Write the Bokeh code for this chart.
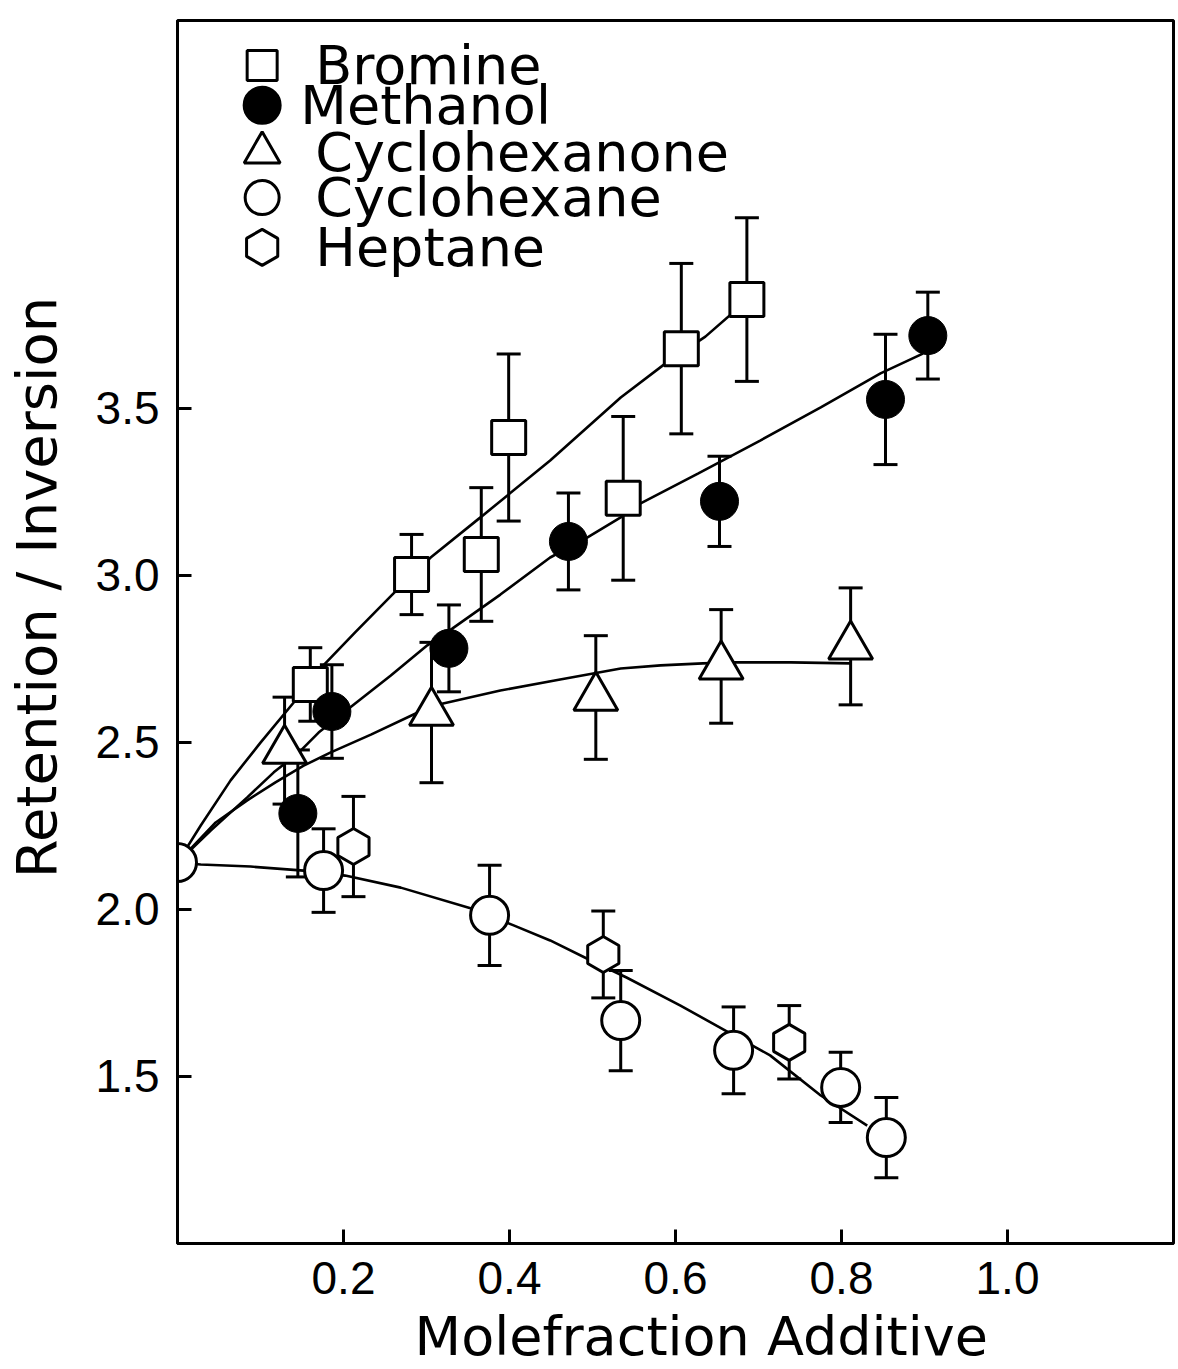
import math
from bokeh.plotting import figure
from bokeh.models import ColumnDataSource, Whisker, TeeHead, FixedTicker
from bokeh.core.properties import value
from bokeh.embed import file_html
from bokeh.resources import INLINE

# ---------------- data ----------------
x_ticks = [0.2, 0.4, 0.6, 0.8, 1.0]
x_tick_labels = ["0.2", "0.4", "0.6", "0.8", "1.0"]
y_ticks = [1.5, 2.0, 2.5, 3.0, 3.5]
y_tick_labels = ["1.5", "2.0", "2.5", "3.0", "3.5"]

x_title = "Molefraction Additive"
y_title = "Retention / Inversion"
series_names = ["Bromine", "Methanol", "Cyclohexanone", "Cyclohexane", "Heptane"]

bromine_x = [0.160, 0.282, 0.366, 0.399, 0.537, 0.607, 0.686]
bromine_y = [2.673, 3.002, 3.062, 3.412, 3.230, 3.678, 3.825]
bromine_err = [0.11, 0.12, 0.20, 0.25, 0.245, 0.255, 0.245]

methanol_x = [0.145, 0.186, 0.327, 0.471, 0.653, 0.853, 0.904]
methanol_y = [2.287, 2.592, 2.781, 3.101, 3.221, 3.526, 3.717]
methanol_err = [0.19, 0.14, 0.13, 0.145, 0.135, 0.195, 0.13]

cyclohexanone_x = [0.129, 0.306, 0.504, 0.655, 0.811]
cyclohexanone_y = [2.475, 2.589, 2.634, 2.727, 2.787]
cyclohexanone_err = [0.16, 0.21, 0.185, 0.17, 0.175]

cyclohexane_x = [0.0, 0.176, 0.376, 0.534, 0.670, 0.799, 0.854]
cyclohexane_y = [2.140, 2.116, 1.982, 1.667, 1.578, 1.467, 1.317]
cyclohexane_err = [0.0, 0.125, 0.15, 0.15, 0.13, 0.105, 0.12]

heptane_x = [0.212, 0.513, 0.737]
heptane_y = [2.188, 1.865, 1.602]
heptane_err = [0.15, 0.13, 0.11]

# fitted curves
bromine_fit_x = [0.0, 0.028, 0.064, 0.100, 0.142, 0.170, 0.214, 0.260, 0.305,
                 0.365, 0.449, 0.534, 0.588, 0.636, 0.686]
bromine_fit_y = [2.140, 2.251, 2.386, 2.499, 2.625, 2.715, 2.829, 2.945, 3.053,
                 3.173, 3.343, 3.532, 3.634, 3.714, 3.822]

methanol_fit_x = [0.0, 0.040, 0.084, 0.116, 0.146, 0.170, 0.211, 0.257, 0.301,
                  0.331, 0.389, 0.449, 0.494, 0.534, 0.558, 0.627, 0.702,
                  0.775, 0.847, 0.898]
methanol_fit_y = [2.140, 2.236, 2.335, 2.410, 2.469, 2.529, 2.610, 2.700, 2.790,
                  2.840, 2.942, 3.053, 3.113, 3.173, 3.215, 3.304, 3.403,
                  3.502, 3.604, 3.663]

cyclohexanone_fit_x = [0.0, 0.046, 0.084, 0.118, 0.152, 0.184, 0.233, 0.287,
                       0.320, 0.389, 0.461, 0.534, 0.582, 0.633, 0.672, 0.739, 0.811]
cyclohexanone_fit_y = [2.140, 2.260, 2.326, 2.380, 2.430, 2.469, 2.523, 2.586,
                       2.616, 2.655, 2.688, 2.721, 2.730, 2.736, 2.739, 2.739, 2.736]

cyclohexane_fit_x = [0.0, 0.028, 0.088, 0.152, 0.202, 0.269, 0.353, 0.405, 0.449,
                     0.498, 0.541, 0.606, 0.671, 0.714, 0.775, 0.831]
cyclohexane_fit_y = [2.140, 2.134, 2.128, 2.116, 2.101, 2.065, 2.003, 1.952, 1.907,
                     1.847, 1.796, 1.712, 1.622, 1.563, 1.443, 1.353]

# ---------------- figure ----------------
FONT = "DejaVu Sans"
TICKFONT = "Liberation Sans"
NB = "\u00a0"

p = figure(frame_width=996, frame_height=1223,
           x_range=(0, 1.2), y_range=(1.0, 4.66),
           output_backend="svg", toolbar_location=None,
           min_border_left=170, min_border_right=2,
           min_border_top=20, min_border_bottom=115,
           x_axis_label=NB * 3 + x_title,
           y_axis_label=NB * 5 + y_title)
p.grid.visible = False
p.background_fill_color = "white"
p.border_fill_color = "white"
p.outline_line_color = "black"
p.outline_line_width = 3

for ax in (p.xaxis[0], p.yaxis[0]):
    ax.axis_line_width = 3
    ax.axis_line_color = "black"
    ax.major_tick_in = 14
    ax.major_tick_out = 0
    ax.major_tick_line_width = 3
    ax.minor_tick_line_color = None
    ax.major_label_text_font = TICKFONT
    ax.major_label_text_font_size = "46px"
    ax.major_label_text_color = "black"
    ax.major_label_standoff = 18
    ax.axis_label_text_font = FONT
    ax.axis_label_text_font_style = "normal"
    ax.axis_label_text_color = "black"

p.xaxis[0].axis_label_text_font_size = "54px"
p.yaxis[0].axis_label_text_font_size = "56px"
p.xaxis[0].axis_label_standoff = 8
p.yaxis[0].axis_label_standoff = 24

p.xaxis[0].ticker = FixedTicker(ticks=x_ticks)
p.xaxis[0].major_label_overrides = {t: s for t, s in zip(x_ticks, x_tick_labels)}
p.yaxis[0].ticker = FixedTicker(ticks=y_ticks)
p.yaxis[0].major_label_overrides = {t: s for t, s in zip(y_ticks, y_tick_labels)}

LW = 2.6
# fitted curves
for fx, fy in [(bromine_fit_x, bromine_fit_y), (methanol_fit_x, methanol_fit_y),
               (cyclohexanone_fit_x, cyclohexanone_fit_y),
               (cyclohexane_fit_x, cyclohexane_fit_y)]:
    p.line(fx, fy, line_color="black", line_width=LW)

# error bars
def add_err(xs, ys, es):
    src = ColumnDataSource(dict(x=xs,
                                lo=[y - e for y, e in zip(ys, es)],
                                hi=[y + e for y, e in zip(ys, es)]))
    w = Whisker(source=src, base="x", lower="lo", upper="hi", dimension="height",
                line_width=3, line_color="black",
                lower_head=TeeHead(size=24, line_width=3, line_color="black"),
                upper_head=TeeHead(size=24, line_width=3, line_color="black"))
    p.add_layout(w)

for xs, ys, es in [(bromine_x, bromine_y, bromine_err),
                   (methanol_x, methanol_y, methanol_err),
                   (cyclohexanone_x, cyclohexanone_y, cyclohexanone_err),
                   (cyclohexane_x[1:], cyclohexane_y[1:], cyclohexane_err[1:]),
                   (heptane_x, heptane_y, heptane_err)]:
    add_err(xs, ys, es)

# markers
p.scatter(bromine_x, bromine_y, marker="square", size=34,
          fill_color="white", line_color="black", line_width=3)
p.scatter(methanol_x, methanol_y, marker="circle", size=38,
          fill_color="black", line_color="black", line_width=1)
p.scatter(cyclohexanone_x, cyclohexanone_y, marker="triangle", size=44,
          fill_color="white", line_color="black", line_width=3)
p.scatter(cyclohexane_x, cyclohexane_y, marker="circle", size=38,
          fill_color="white", line_color="black", line_width=3)
p.scatter(heptane_x, heptane_y, marker="hex", size=36, angle=math.pi / 6,
          fill_color="white", line_color="black", line_width=3)

# manual legend (layout positions in data units)
leg_x = 0.102
leg_text_x = 0.166
leg_rows = [4.525, 4.406, 4.265, 4.130, 3.981]
leg_specs = [("square", 30, "white", 0), ("circle", 36, "black", 0),
             ("triangle", 36, "white", 0), ("circle", 34, "white", 0),
             ("hex", 36, "white", math.pi / 6)]
for (mk, sz, fc, ang), yy, name in zip(leg_specs, leg_rows, series_names):
    p.scatter([leg_x], [yy], marker=mk, size=sz, fill_color=fc,
              line_color="black", line_width=3, angle=ang)
    tx = leg_text_x if name != "Methanol" else 0.148
    p.text([tx], [yy], text=[name], text_font=value(FONT),
           text_font_size="54px", text_baseline="middle", text_align="left",
           text_color="black")

open("out.html", "w").write(file_html(p, INLINE))
